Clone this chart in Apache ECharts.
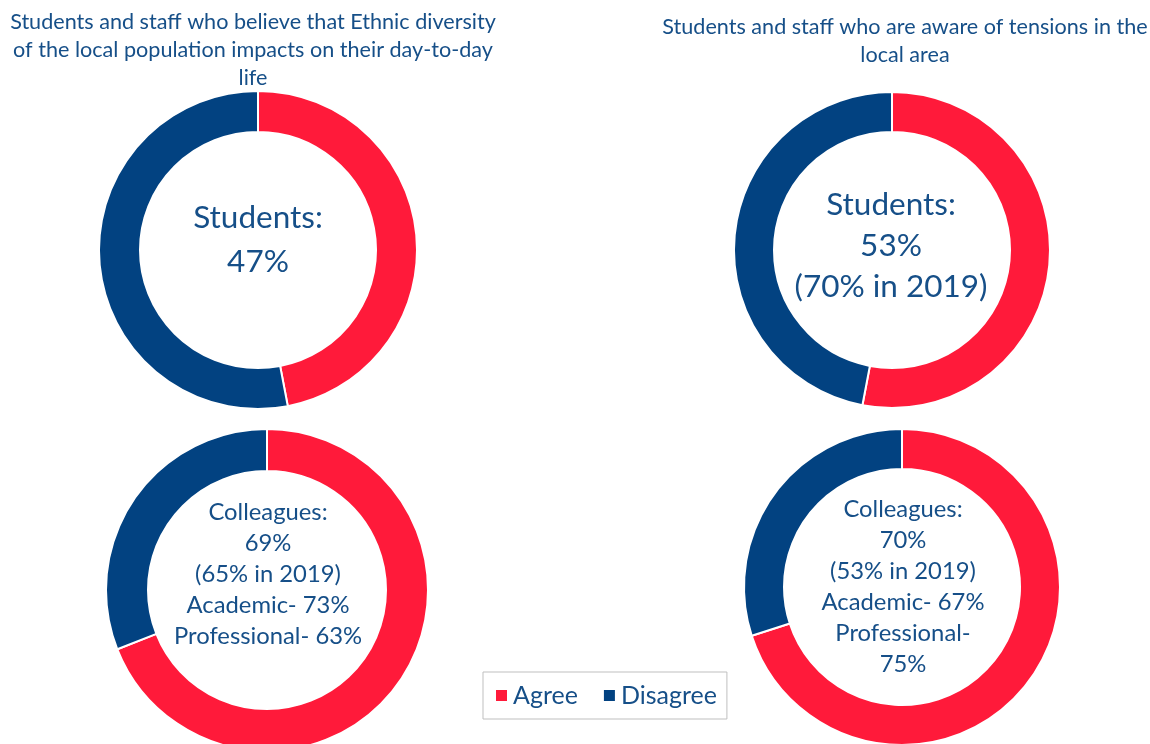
<!DOCTYPE html>
<html>
<head>
<meta charset="utf-8">
<script src="https://cdn.jsdelivr.net/npm/echarts@6/dist/echarts.min.js"></script>
<style>
html,body{margin:0;padding:0;background:#fff;}
#main{width:1150px;height:744px;}
</style>
</head>
<body>
<div id="main"></div>
<script>
// ---- data ----
const categories = ['Agree', 'Disagree'];
const diversityStudents = [47, 53];
const diversityColleagues = [69, 31];
const tensionsStudents = [53, 47];
const tensionsColleagues = [70, 30];

const titleLeft = 'Students and staff who believe that Ethnic diversity\nof the local population impacts on their day-to-day\nlife';
const titleRight = 'Students and staff who are aware of tensions in the\nlocal area';
const labelDivStudents = 'Students:\n47%';
const labelDivColleagues = 'Colleagues:\n69%\n(65% in 2019)\nAcademic- 73%\nProfessional- 63%';
const labelTenStudents = 'Students:\n53%\n(70% in 2019)';
const labelTenColleagues = 'Colleagues:\n70%\n(53% in 2019)\nAcademic- 67%\nProfessional-\n75%';

const colors = ['#FF1A3A', '#024281'];
const textColor = '#164F88';
const FONT = 'Lato, "Open Sans", sans-serif';

function pie(values, center, radius) {
  return {
    type: 'pie',
    center: center,
    radius: radius,
    startAngle: 90,
    clockwise: true,
    silent: true,
    label: { show: false },
    labelLine: { show: false },
    itemStyle: { borderColor: '#ffffff', borderWidth: 2 },
    data: categories.map((c, i) => ({ name: c, value: values[i] }))
  };
}

function centerText(text, x, y, size, lh) {
  return {
    type: 'text',
    x: x, y: y,
    style: {
      text: text,
      fill: textColor,
      font: size + 'px ' + FONT,
      textAlign: 'center',
      textVerticalAlign: 'middle',
      lineHeight: lh
    }
  };
}

const chart = echarts.init(document.getElementById('main'));
chart.setOption({
  backgroundColor: '#ffffff',
  color: colors,
  animation: false,
  legend: {
    data: categories,
    left: 483,
    top: 672,
    icon: 'rect',
    itemWidth: 13,
    itemHeight: 13,
    itemGap: 24,
    padding: [11, 10, 11, 11],
    borderColor: '#bfbfbf',
    borderWidth: 1,
    textStyle: { fontSize: 25, color: textColor, fontFamily: FONT }
  },
  series: [
    pie(diversityStudents, [258, 250], [118, 159]),
    pie(tensionsStudents, [892, 250], [118, 158]),
    pie(diversityColleagues, [267, 590], [119, 161]),
    pie(tensionsColleagues, [902, 587], [118, 158])
  ],
  graphic: [
    centerText(titleLeft, 253, 50, 21.6, 28),
    centerText(titleRight, 905, 41, 21.6, 28),
    centerText(labelDivStudents, 258, 240, 31.5, 44),
    centerText(labelTenStudents, 891, 246, 31.5, 41),
    centerText(labelDivColleagues, 268, 574, 23.8, 31),
    centerText(labelTenColleagues, 903, 587, 23.8, 31)
  ]
});
</script>
</body>
</html>
